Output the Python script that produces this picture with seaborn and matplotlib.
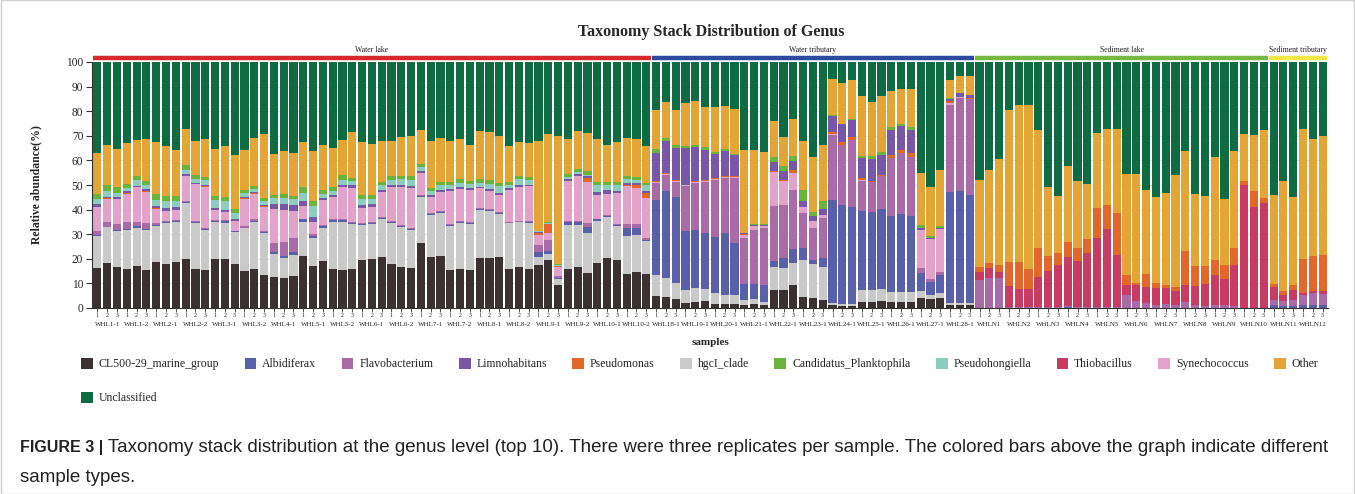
import numpy as np
import pandas as pd
import matplotlib
matplotlib.use("Agg")
import matplotlib.pyplot as plt
import seaborn as sns
from matplotlib.patches import Patch, Rectangle
from matplotlib.transforms import blended_transform_factory

# ---------------- data ----------------
water_lake = ["WHL1-1", "WHL1-2", "WHL2-1", "WHL2-2", "WHL3-1", "WHL3-2", "WHL4-1",
              "WHL5-1", "WHL5-2", "WHL6-1", "WHL6-2", "WHL7-1", "WHL7-2", "WHL8-1",
              "WHL8-2", "WHL9-1", "WHL9-2", "WHL10-1", "WHL10-2"]
water_tributary = ["WHL18-1", "WHL19-1", "WHL20-1", "WHL21-1", "WHL22-1", "WHL23-1",
                   "WHL24-1", "WHL25-1", "WHL26-1", "WHL27-1", "WHL28-1"]
sediment_lake = ["WHLN1", "WHLN2", "WHLN3", "WHLN4", "WHLN5", "WHLN6", "WHLN7",
                 "WHLN8", "WHLN9", "WHLN10"]
sediment_tributary = ["WHLN11", "WHLN12"]
replicates = ["1", "2", "3"]
sample_types = ["Water lake", "Water tributary", "Sediment lake", "Sediment tributary"]
type_colors = ["#d62a2c", "#2d4b9e", "#76b843", "#f1e845"]

genera = ["CL500-29_marine_group", "Albidiferax", "Flavobacterium", "Limnohabitans",
          "Pseudomonas", "hgcI_clade", "Candidatus_Planktophila", "Pseudohongiella",
          "Thiobacillus", "Synechococcus", "Other", "Unclassified"]

CL500_29_marine_group = [
    16.3, 18.1, 16.7, 16.0, 17.1, 15.6, 18.5, 18.0, 18.5, 20.1, 15.8, 15.4, 20.1, 19.9, 17.8, 15.1, 15.8, 13.3, 12.7,
    12.2, 12.9, 21.2, 17.0, 19.2, 16.0, 15.4, 15.8, 19.7, 19.9, 20.8, 17.8, 16.7, 16.3, 26.5, 20.8, 21.2, 15.4, 15.9, 15.6,
    20.5, 20.3, 20.8, 15.8, 16.5, 16.0, 17.4, 19.5, 9.3, 16.0, 16.5, 14.3, 18.1, 20.4, 19.5, 13.7, 14.7, 13.7,
    4.9, 4.5, 3.8, 2.2, 2.6, 2.7, 1.8, 1.5, 1.5, 1.4, 1.8, 1.1, 7.5, 7.5, 9.3, 4.5, 4.1, 3.1, 1.1, 0.8, 1.0,
    2.4, 2.4, 2.7, 2.4, 2.4, 2.4, 4.2, 3.5, 4.2, 1.1, 1.1, 1.1,
    0, 0, 0, 0, 0, 0, 0, 0, 0, 0, 0, 0, 0, 0, 0, 0, 0, 0, 0, 0, 0, 0, 0, 0, 0, 0, 0, 0, 0, 0,
    0, 0, 0, 0, 0, 0]
hgcI_clade = [
    13.0, 14.7, 14.6, 15.7, 15.6, 16.1, 14.8, 16.4, 16.5, 22.5, 18.9, 16.3, 15.0, 14.8, 12.9, 17.3, 19.3, 17.0, 9.2,
    8.0, 8.6, 13.9, 11.3, 13.5, 19.1, 19.7, 18.2, 13.9, 14.1, 15.4, 16.9, 16.4, 15.4, 18.8, 17.0, 17.3, 18.1, 18.5, 18.4,
    19.4, 19.3, 17.4, 18.6, 18.3, 18.7, 3.4, 2.4, 2.4, 17.7, 17.2, 16.3, 17.4, 16.5, 13.8, 15.7, 15.0, 13.5,
    8.7, 7.7, 6.5, 5.3, 5.7, 5.2, 4.1, 3.7, 3.9, 1.7, 2.0, 1.3, 9.0, 8.6, 8.8, 15.0, 13.6, 13.6, 1.1, 1.0, 0.8,
    4.8, 4.8, 4.9, 4.1, 4.1, 4.1, 2.7, 1.7, 2.1, 0.9, 1.1, 1.1,
    0, 0, 0, 0, 0, 0, 0, 0, 0, 0, 0, 0, 0, 0, 0, 0, 0, 0, 0, 0, 0, 0, 0, 0, 0, 0, 0, 0, 0, 0,
    0, 0, 0, 0, 0, 0]
Albidiferax = [
    0.2, 0.2, 0.5, 0.6, 0.5, 0.6, 0.6, 0.5, 0.3, 0.3, 0.3, 0.3, 0.3, 0.5, 0.4, 0.3, 0.3, 0.4, 0.9,
    0.8, 1.4, 0.9, 1.0, 0.6, 0.6, 0.5, 0.6, 0.5, 0.4, 0.3, 0.4, 0.4, 0.4, 0.3, 0.5, 0.5, 0.4, 0.5, 0.5,
    0.4, 0.3, 0.3, 0.3, 0.3, 0.3, 2.1, 1.2, 0.3, 1.4, 1.4, 2.5, 0.5, 0.5, 0.5, 3.0, 3.0, 0.5,
    30.3, 35.4, 35.0, 23.8, 23.4, 22.7, 23.1, 25.1, 20.9, 6.8, 6.1, 6.9, 2.7, 4.4, 5.7, 4.7, 1.8, 3.8, 41.5, 40.2, 39.4,
    32.4, 31.7, 32.5, 30.9, 31.6, 31.1, 7.4, 5.4, 7.0, 45.3, 45.4, 43.8,
    0, 0, 0, 0, 0, 0, 0, 0, 0, 0.3, 0, 0, 0, 0, 0, 0, 0, 0, 0, 0, 0, 0, 0, 0, 0, 0, 0, 0, 0, 0,
    1.4, 1.0, 1.0, 1.1, 1.1, 1.1]
Flavobacterium = [
    1.8, 1.8, 2.2, 2.7, 1.8, 2.4, 0.6, 0.6, 0.4, 0.6, 0.4, 0.4, 0.3, 0.4, 0.4, 0.5, 0.6, 0.6, 3.8,
    5.9, 5.7, 0.3, 0.8, 0.3, 0.3, 0.4, 0.4, 0.4, 0.4, 0.5, 0.4, 0.4, 0.4, 0.3, 0.4, 0.4, 0.4, 0.4, 0.4,
    0.4, 0.4, 0.4, 0.4, 0.4, 0.4, 2.7, 4.5, 1.1, 0.3, 0.4, 1.6, 0.3, 0.3, 0.3, 1.6, 1.4, 0.6,
    6.8, 6.5, 6.1, 18.1, 19.0, 20.8, 23.1, 22.5, 26.5, 18.4, 21.8, 23.1, 22.3, 21.4, 24.0, 14.6, 13.2, 16.0, 26.8, 24.4, 27.2,
    12.1, 12.5, 13.4, 23.6, 24.9, 23.6, 1.8, 1.0, 1.4, 35.4, 37.8, 38.8,
    11.3, 12.0, 12.2, 0.3, 0.3, 0.3, 0.3, 0.5, 0.5, 0.4, 0.5, 0.3, 0.3, 0.3, 0.3,
    5.2, 2.9, 2.2, 1.4, 1.8, 1.4, 2.4, 1.1, 0.8, 1.4, 1.1, 1.0, 0, 0, 0,
    2.0, 1.9, 2.1, 4.3, 4.8, 4.5]
Thiobacillus = [
    0, 0, 0, 0, 0, 0, 0, 0, 0, 0, 0, 0, 0, 0, 0, 0, 0, 0, 0,
    0, 0, 0, 0, 0, 0, 0, 0, 0, 0, 0, 0, 0, 0, 0, 0, 0, 0, 0, 0,
    0, 0, 0, 0, 0, 0, 0, 0, 0, 0, 0, 0, 0, 0, 0, 0, 0, 0,
    0, 0, 0, 0, 0, 0, 0, 0, 0, 0, 0, 0, 0, 0, 0, 0, 0, 0, 0, 0, 0,
    0, 0, 0, 0, 0, 0, 0, 0, 0, 0, 0, 0,
    3.4, 4.1, 2.5, 8.5, 7.6, 7.6, 12.4, 14.5, 16.9, 20.1, 18.7, 22.1, 28.3, 31.8, 21.2,
    4.1, 6.4, 6.4, 6.8, 6.4, 5.5, 6.9, 7.9, 9.1, 11.9, 10.5, 16.4, 50.1, 41.2, 42.6,
    5.2, 2.5, 4.4, 0.9, 1.0, 1.2]
Synechococcus = [
    9.7, 9.6, 10.2, 11.5, 14.0, 12.6, 5.8, 4.0, 4.3, 10.0, 14.9, 16.9, 4.1, 3.4, 3.7, 11.3, 10.4, 9.7, 13.8,
    13.0, 10.9, 5.2, 5.0, 10.2, 9.0, 13.0, 13.7, 6.3, 6.4, 10.0, 13.8, 15.3, 16.1, 8.9, 6.3, 7.8, 13.2, 13.1, 12.9,
    7.9, 7.4, 7.1, 12.9, 13.8, 14.0, 4.1, 2.7, 3.6, 16.4, 18.2, 16.4, 9.7, 8.8, 12.6, 15.5, 14.5, 16.5,
    0.5, 0.5, 0.4, 0.4, 0.4, 0.4, 0.5, 0.5, 0.6, 1.4, 1.6, 0.9, 13.6, 9.9, 7.0, 2.2, 2.7, 1.3, 0.3, 0, 0,
    0.3, 0, 0, 0, 0, 0, 15.6, 16.3, 17.3, 0.5, 0.3, 0.3,
    0, 0, 0, 0, 0, 0, 0, 0, 0, 0, 0, 0, 0, 0, 0, 0, 0, 0, 0, 0, 0, 0, 0, 0, 0, 0, 0, 0, 0, 0,
    0, 0, 0, 0, 0, 0]
Pseudomonas = [
    0.2, 0.3, 0.3, 0.3, 0.2, 0.2, 0.2, 0, 0, 0.3, 0.3, 0.2, 0, 0, 0, 0.2, 0.2, 0.3, 0,
    0, 0, 0, 0, 0, 0, 0.2, 0, 0, 0, 0.3, 0, 0, 0, 0, 0, 0, 0, 0, 0,
    0, 0, 0, 0, 0, 0, 0.9, 3.7, 0.4, 0, 0, 1.9, 0, 0, 0, 0.5, 1.4, 1.9,
    0.4, 0.3, 0.4, 0.4, 0.4, 0.4, 0.4, 0.3, 0.3, 0.3, 0, 0, 0.4, 0.4, 1.4, 0, 0, 0, 0.9, 0.9, 1.0,
    0.8, 0.4, 0.4, 1.3, 1.1, 1.8, 0, 0, 0, 0.9, 0, 0.3,
    1.8, 2.0, 2.7, 9.7, 10.6, 7.9, 11.5, 6.1, 4.8, 6.1, 5.3, 5.5, 11.9, 9.8, 17.0,
    4.0, 1.0, 5.4, 2.0, 1.3, 1.7, 13.8, 8.0, 7.1, 6.2, 5.8, 6.8, 1.6, 6.4, 2.3,
    1.3, 1.4, 2.0, 13.6, 14.3, 14.7]
Limnohabitans = [
    1.0, 0.6, 0.7, 0.6, 0.5, 0.7, 0.8, 1.0, 1.0, 0.5, 0.4, 0.6, 1.0, 1.0, 1.1, 0.6, 0.6, 0.6, 1.9,
    2.4, 2.4, 1.8, 2.0, 0.9, 0.9, 0.8, 1.1, 1.2, 1.1, 0.5, 0.8, 0.8, 0.8, 0.8, 0.8, 0.8, 0.8, 0.9, 0.9,
    0.7, 0.8, 0.8, 0.7, 0.8, 0.8, 0.3, 0.3, 0, 0.7, 0.8, 0.7, 1.2, 1.3, 1.0, 0.8, 0.7, 0.8,
    11.4, 12.9, 12.8, 14.8, 13.9, 12.2, 9.7, 10.1, 8.3, 0.3, 0.3, 0.3, 3.7, 3.3, 3.7, 2.3, 2.0, 2.3, 6.3, 7.3, 7.2,
    8.2, 8.7, 8.4, 10.2, 10.0, 9.5, 1.0, 0.5, 0.5, 0.9, 1.5, 1.0,
    0, 0, 0, 0, 0, 0, 0, 0, 0, 0, 0, 0, 0, 0, 0, 0, 0, 0, 0, 0, 0, 0, 0, 0, 0, 0, 0, 0, 0, 0,
    0, 0, 0, 0, 0, 0]
Pseudohongiella = [
    2.0, 2.3, 1.5, 1.4, 2.3, 1.8, 2.7, 2.8, 2.6, 2.0, 1.6, 1.9, 3.0, 3.5, 2.4, 1.3, 1.1, 1.4, 2.3,
    2.3, 2.3, 3.6, 4.4, 1.6, 1.7, 2.0, 1.7, 2.2, 2.0, 2.2, 1.9, 2.3, 2.6, 1.6, 1.8, 1.8, 1.9, 1.5, 1.8,
    1.7, 2.0, 2.9, 1.5, 2.2, 1.8, 0.3, 0.3, 0.3, 0.7, 0.8, 0.5, 2.8, 2.2, 2.3, 1.7, 1.5, 2.3,
    0, 0, 0, 0, 0, 0, 0, 0, 0, 0, 0, 0, 0, 0, 0, 0, 0, 0, 0, 0, 0,
    0, 0, 0, 0, 0, 0, 0, 0, 0, 0, 0, 0,
    0, 0, 0, 0, 0, 0, 0, 0, 0, 0, 0, 0, 0, 0, 0, 0, 0, 0, 0, 0, 0, 0, 0, 0, 0, 0, 0, 0, 0, 0,
    0, 0, 0, 0, 0, 0]
Candidatus_Planktophila = [
    2.0, 2.4, 2.3, 1.7, 1.6, 1.8, 2.3, 2.2, 2.0, 1.9, 1.6, 1.4, 1.8, 1.8, 1.5, 1.3, 1.4, 1.3, 1.4,
    1.7, 1.5, 2.1, 1.8, 1.6, 1.6, 2.0, 1.5, 1.6, 1.7, 1.2, 1.6, 1.3, 1.5, 1.3, 1.2, 1.4, 1.1, 1.5, 1.3,
    1.5, 1.5, 1.3, 1.2, 1.2, 1.2, 0.3, 0.3, 0.3, 1.4, 1.3, 1.6, 1.2, 1.3, 1.3, 1.3, 1.2, 1.0,
    1.6, 1.3, 1.1, 1.0, 1.0, 1.0, 0.8, 0.8, 0.7, 0.3, 0.5, 0.5, 2.2, 2.1, 1.7, 4.7, 1.6, 3.2, 0.3, 0.3, 0.3,
    0.9, 1.1, 1.0, 1.0, 0.8, 1.1, 1.0, 0.8, 0.7, 0.4, 0.3, 0.3,
    0, 0, 0, 0, 0, 0, 0, 0, 0, 0, 0, 0, 0, 0, 0, 0, 0, 0, 0, 0, 0, 0, 0, 0, 0, 0, 0, 0, 0, 0,
    0, 0, 0, 0, 0, 0]
Other = [
    17.0, 16.4, 15.7, 16.6, 14.8, 16.9, 21.0, 20.5, 18.8, 14.6, 13.8, 15.3, 19.0, 20.4, 22.1, 16.2, 19.4, 26.1, 16.6,
    17.4, 17.3, 18.3, 20.4, 18.2, 15.7, 14.2, 18.4, 21.5, 20.7, 16.8, 14.2, 15.9, 16.6, 14.0, 19.2, 17.9, 16.5, 16.5, 14.6,
    19.3, 19.6, 19.1, 14.6, 14.0, 13.9, 36.3, 36.0, 52.4, 14.1, 15.2, 15.4, 17.7, 15.1, 16.0, 15.3, 15.3, 15.2,
    15.8, 14.7, 14.3, 17.4, 17.7, 16.4, 18.3, 17.8, 18.0, 33.8, 30.3, 29.3, 14.8, 11.9, 15.3, 19.8, 22.4, 23.1, 14.6, 16.7, 15.6,
    24.2, 22.1, 22.8, 14.7, 14.2, 15.5, 21.1, 19.8, 22.7, 7.1, 6.8, 7.6,
    35.6, 38.1, 43.3, 61.8, 64.2, 66.9, 48.3, 28.0, 23.5, 30.7, 27.3, 22.4, 30.7, 31.0, 34.4,
    41.3, 44.3, 34.0, 34.8, 37.2, 45.5, 40.6, 29.3, 28.6, 41.7, 27.0, 39.7, 19.0, 22.9, 27.6,
    36.1, 45.0, 35.8, 53.0, 47.6, 48.6]
Unclassified = [
    36.8, 33.6, 35.3, 32.9, 31.6, 31.3, 32.7, 34.0, 35.6, 27.2, 32.0, 31.3, 35.4, 34.3, 37.7, 35.9, 30.9, 29.3, 37.4,
    36.3, 37.0, 32.7, 36.3, 33.9, 35.1, 31.8, 28.6, 32.7, 33.3, 32.0, 32.2, 30.5, 29.9, 27.5, 32.0, 30.9, 32.2, 31.2, 33.6,
    28.2, 28.4, 29.9, 34.0, 32.5, 32.9, 32.2, 29.1, 29.9, 31.3, 28.2, 28.8, 31.1, 33.6, 32.7, 30.9, 31.3, 34.0,
    19.6, 16.2, 19.6, 16.6, 15.9, 18.2, 18.2, 17.7, 19.3, 35.6, 35.6, 36.6, 23.8, 30.5, 23.1, 32.2, 38.6, 33.6, 7.1, 8.4, 7.5,
    13.9, 16.3, 13.9, 11.8, 10.9, 10.9, 45.2, 51.0, 44.1, 7.5, 5.7, 5.7,
    47.9, 43.8, 39.3, 19.7, 17.3, 17.3, 27.5, 50.9, 54.3, 42.4, 48.2, 49.7, 28.8, 27.1, 27.1,
    45.4, 45.4, 52.0, 55.0, 53.3, 45.9, 36.3, 53.7, 54.4, 38.8, 55.6, 36.1, 29.3, 29.5, 27.5,
    54.0, 48.2, 54.7, 27.1, 31.2, 29.9]

genus_colors = {
    "CL500-29_marine_group": "#3b3131",
    "Albidiferax": "#5a5fa9",
    "Flavobacterium": "#a96ba7",
    "Limnohabitans": "#7858a6",
    "Pseudomonas": "#e2672a",
    "hgcI_clade": "#c9c9c9",
    "Candidatus_Planktophila": "#6bb33a",
    "Pseudohongiella": "#8ccdbf",
    "Thiobacillus": "#c83b63",
    "Synechococcus": "#e3a2c9",
    "Other": "#e3a535",
    "Unclassified": "#0f6b41",
}

series = {
    "CL500-29_marine_group": CL500_29_marine_group, "Albidiferax": Albidiferax,
    "Flavobacterium": Flavobacterium, "Limnohabitans": Limnohabitans,
    "Pseudomonas": Pseudomonas, "hgcI_clade": hgcI_clade,
    "Candidatus_Planktophila": Candidatus_Planktophila, "Pseudohongiella": Pseudohongiella,
    "Thiobacillus": Thiobacillus, "Synechococcus": Synechococcus,
    "Other": Other, "Unclassified": Unclassified,
}

# stacking order, bottom -> top
stack_bottom_to_top = ["CL500-29_marine_group", "hgcI_clade", "Albidiferax", "Flavobacterium",
                       "Thiobacillus", "Synechococcus", "Pseudomonas", "Limnohabitans",
                       "Pseudohongiella", "Candidatus_Planktophila", "Other", "Unclassified"]

# ---------------- build table ----------------
groups = [water_lake, water_tributary, sediment_lake, sediment_tributary]
sample_names, rep_labels, type_of = [], [], []
for t, grp in zip(sample_types, groups):
    for s in grp:
        for r in replicates:
            sample_names.append(s)
            rep_labels.append(r)
            type_of.append(t)
n = len(sample_names)

records = []
for g in genera:
    for i, v in enumerate(series[g]):
        records.append({"pos": i, "genus": g, "abundance": v})
df = pd.DataFrame(records)

# ---------------- figure ----------------
sns.set_theme(style="white")
plt.rcParams["font.family"] = ["Liberation Serif", "DejaVu Serif"]

W, H = 1355, 494
fig = plt.figure(figsize=(W / 100, H / 100), dpi=100)
ax_l, ax_r, ax_t, ax_b = 91.6, 1328.4, 62.0, 308.0
ax = fig.add_axes([ax_l / W, 1 - ax_b / H, (ax_r - ax_l) / W, (ax_b - ax_t) / H])

for yv in range(10, 101, 10):
    ax.axhline(yv, color="#dedede", lw=0.6, zorder=0)

sns.histplot(data=df, x="pos", weights="abundance", hue="genus",
             hue_order=stack_bottom_to_top[::-1], palette=genus_colors,
             multiple="stack", discrete=True, shrink=0.82, linewidth=0,
             alpha=1, legend=False, ax=ax, zorder=2)

ax.set_xlim(-0.6, n - 0.4)
ax.set_ylim(0, 100)
ax.set_yticks(range(0, 101, 10))
ax.set_yticklabels([str(v) for v in range(0, 101, 10)], fontsize=8.3)
ax.set_xticks(range(n))
ax.set_xticklabels(rep_labels, fontsize=4.3)
ax.tick_params(axis="y", length=4, width=0.8, color="#333333", pad=2, left=True)
ax.tick_params(axis="x", length=3, width=0.6, color="#333333", pad=0.5, bottom=True)
for side in ["top", "right"]:
    ax.spines[side].set_visible(False)
for side in ["left", "bottom"]:
    ax.spines[side].set_color("#333333")
    ax.spines[side].set_linewidth(0.8)

ax.set_ylabel("Relative abundance(%)", fontweight="bold", fontsize=8.5)
ax.yaxis.set_label_coords(-0.040, 0.5)
ax.set_xlabel("samples", fontweight="bold", fontsize=8)
ax.xaxis.set_label_coords(0.5, -0.12)

trans = blended_transform_factory(ax.transData, ax.transAxes)
# sample names under the middle replicate
idx = 0
for grp in groups:
    for s in grp:
        ax.text(idx + 1, -0.068, s, transform=trans, ha="center", va="center",
                fontsize=5.0, color="#222222")
        idx += 3

# sample type bars on top
start = 0
for t, grp, c in zip(sample_types, groups, type_colors):
    end = start + 3 * len(grp) - 1
    ax.plot([start - 0.45, end + 0.45], [1.018, 1.018], transform=trans, color=c,
            lw=3.2, solid_capstyle="butt", clip_on=False)
    ax.text((start + end) / 2, 1.05, t, transform=trans, ha="center", va="center",
            fontsize=5.6, color="#222222")
    start = end + 1

fig.text(711 / W, 1 - 32.5 / H, "Taxonomy Stack Distribution of Genus", ha="center",
         va="center", fontweight="bold", fontsize=11.5)

# legend (row-major look: CL500 & Unclassified share the first column)
leg_order = ["CL500-29_marine_group", "Unclassified", "Albidiferax", "Flavobacterium",
             "Limnohabitans", "Pseudomonas", "hgcI_clade", "Candidatus_Planktophila",
             "Pseudohongiella", "Thiobacillus", "Synechococcus", "Other"]
handles = [Patch(facecolor=genus_colors[g], edgecolor="none") for g in leg_order]
fig.legend(handles, leg_order, ncol=11, loc="upper left",
           bbox_to_anchor=(81 / W, 1 - 358 / H), frameon=False, fontsize=8.5,
           handlelength=1.0, handleheight=1.0, handletextpad=0.5,
           columnspacing=2.15, labelspacing=1.85, borderpad=0, borderaxespad=0)

# caption
cap_font = ["Liberation Sans", "DejaVu Sans"]
cap_size = 11.5
t1 = fig.text(20 / W, 1 - 447 / H, "FIGURE 3 |", ha="left", va="center",
              fontsize=cap_size, fontweight="bold", family=cap_font, color="#222222")
t2 = ax.annotate(" Taxonomy stack distribution at the genus level (top 10). There were three "
                 "replicates per sample. The colored bars above the graph indicate different",
                 xy=(1, 0.5), xycoords=t1, ha="left", va="center", fontsize=cap_size,
                 family=cap_font, color="#222222", annotation_clip=False)
t3 = fig.text(20 / W, 1 - 477 / H, "sample types.", ha="left", va="center",
              fontsize=cap_size, family=cap_font, color="#222222")
# stretch the caption body so the first line ends where the original does
fig.canvas.draw()
r = fig.canvas.get_renderer()
bb1 = t1.get_window_extent(r)
bb2 = t2.get_window_extent(r)
target = 1333 - bb1.x1
scale = target / bb2.width
t2.set_fontsize(cap_size * scale)
t3.set_fontsize(cap_size * scale)

fig.add_artist(Rectangle((0.0008, 0.001), 0.9984, 0.998, transform=fig.transFigure,
                         fill=False, ec="#cfcfcf", lw=1.0))

fig.savefig("out.png", dpi=100)
